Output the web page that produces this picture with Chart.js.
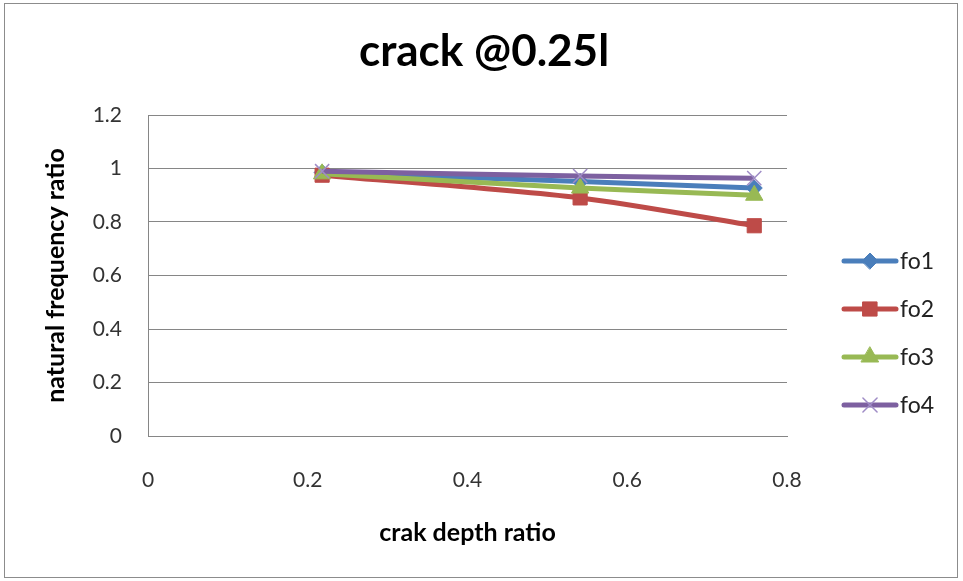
<!DOCTYPE html>
<html lang="en">
<head>
    <meta charset="UTF-8">
    <title>crack @0.25l</title>
    <script src="https://cdn.jsdelivr.net/npm/chart.js"></script>
    <style>
        html, body { margin: 0; padding: 0; background: #fff; }
        #wrap { width: 963px; height: 581px; }
    </style>
</head>
<body>
    <div id="wrap"><canvas id="chart"></canvas></div>

    <script>
        // values
        const depthRatio = [0.218, 0.541, 0.759];
        const fo1 = [0.985, 0.951, 0.927];
        const fo2 = [0.975, 0.89, 0.786];
        const fo3 = [0.98, 0.927, 0.9];
        const fo4 = [0.99, 0.972, 0.964];
        const yTicks = [0, 0.2, 0.4, 0.6, 0.8, 1, 1.2];
        const xTicks = [0, 0.2, 0.4, 0.6, 0.8];

        const toPoints = arr => arr.map((v, i) => ({ x: depthRatio[i], y: v }));

        const font = 'Lato, "Open Sans", sans-serif';

        // border, title and Excel style legend (line + marker)
        const decor = {
            id: 'decor',
            beforeDraw(chart) {
                const ctx = chart.ctx;
                ctx.save();
                ctx.fillStyle = '#fff';
                ctx.fillRect(0, 0, chart.width, chart.height);
                ctx.strokeStyle = '#8c8c8c';
                ctx.lineWidth = 1;
                ctx.strokeRect(4.5, 3.5, 953, 574);
                ctx.restore();
            },
            afterDraw(chart) {
                const ctx = chart.ctx;
                ctx.save();
                ctx.fillStyle = '#000';
                ctx.font = 'bold 44px ' + font;
                ctx.textAlign = 'center';
                ctx.textBaseline = 'middle';
                ctx.fillText('crack @0.25l', 484, 52);

                const rows = [261, 309, 357, 405];
                chart.data.datasets.forEach((ds, i) => {
                    const y = rows[i];
                    ctx.strokeStyle = ds.borderColor;
                    ctx.lineWidth = ds.borderWidth;
                    ctx.lineCap = 'round';
                    ctx.beginPath();
                    ctx.moveTo(844, y);
                    ctx.lineTo(896, y);
                    ctx.stroke();
                    ctx.fillStyle = ds.pointBackgroundColor;
                    ctx.strokeStyle = ds.pointBorderColor;
                    ctx.lineWidth = ds.pointBorderWidth;
                    Chart.helpers.drawPoint(ctx, {
                        pointStyle: ds.pointStyle,
                        radius: ds.pointRadius,
                        rotation: 0,
                        borderWidth: ds.pointBorderWidth
                    }, 870, y);
                    ctx.fillStyle = '#222';
                    ctx.font = '23px ' + font;
                    ctx.textAlign = 'left';
                    ctx.fillText(ds.label, 900, y + 1);
                });
                ctx.restore();
            }
        };

        function series(label, data, color, style, radius, order, extra) {
            return Object.assign({
                label: label,
                data: toPoints(data),
                borderColor: color,
                backgroundColor: color,
                pointBackgroundColor: color,
                pointBorderColor: color,
                pointStyle: style,
                pointRadius: radius,
                pointHoverRadius: radius,
                pointBorderWidth: 1,
                borderWidth: 5,
                tension: 0.3,
                order: order
            }, extra || {});
        }

        new Chart(document.getElementById('chart'), {
            type: 'line',
            data: {
                datasets: [
                    series('fo1', fo1, '#4a7ebb', 'rectRot', 8, 3),
                    series('fo2', fo2, '#be4b48', 'rect', 10, 2),
                    series('fo3', fo3, '#98b954', 'triangle', 10, 1),
                    series('fo4', fo4, '#7d60a0', 'crossRot', 10, 0, { pointBorderColor: '#9f8cc6', pointBorderWidth: 1.5 })
                ]
            },
            plugins: [decor],
            options: {
                responsive: true,
                maintainAspectRatio: false,
                animation: false,
                layout: { padding: { top: 115, right: 176, left: 0, bottom: 0 } },
                plugins: {
                    legend: { display: false },
                    title: { display: false },
                    tooltip: { enabled: false }
                },
                scales: {
                    x: {
                        type: 'linear',
                        min: 0,
                        max: 0.8,
                        afterFit: s => { s.height = 145; },
                        afterBuildTicks: s => { s.ticks = xTicks.map(v => ({ value: v })); },
                        grid: { display: false },
                        border: { display: true, color: '#868686' },
                        ticks: {
                            color: '#333',
                            font: { family: font, size: 21 },
                            padding: 24,
                            maxRotation: 0,
                            callback: v => String(v)
                        },
                        title: {
                            display: true,
                            text: 'crak depth ratio',
                            color: '#000',
                            font: { family: font, size: 25, weight: 'bold' },
                            padding: { top: 0, bottom: 33 }
                        }
                    },
                    y: {
                        min: 0,
                        max: 1.2,
                        afterFit: s => { s.width = 148; },
                        afterBuildTicks: s => { s.ticks = yTicks.map(v => ({ value: v })); },
                        grid: { color: '#868686', drawTicks: false },
                        border: { color: '#868686' },
                        ticks: {
                            color: '#333',
                            font: { family: font, size: 21 },
                            padding: 26,
                            callback: v => String(v)
                        },
                        title: {
                            display: true,
                            text: 'natural frequency ratio',
                            color: '#000',
                            font: { family: font, size: 25, weight: 'bold' },
                            padding: { top: 41, bottom: 0 }
                        }
                    }
                }
            }
        });
    </script>
</body>
</html>
